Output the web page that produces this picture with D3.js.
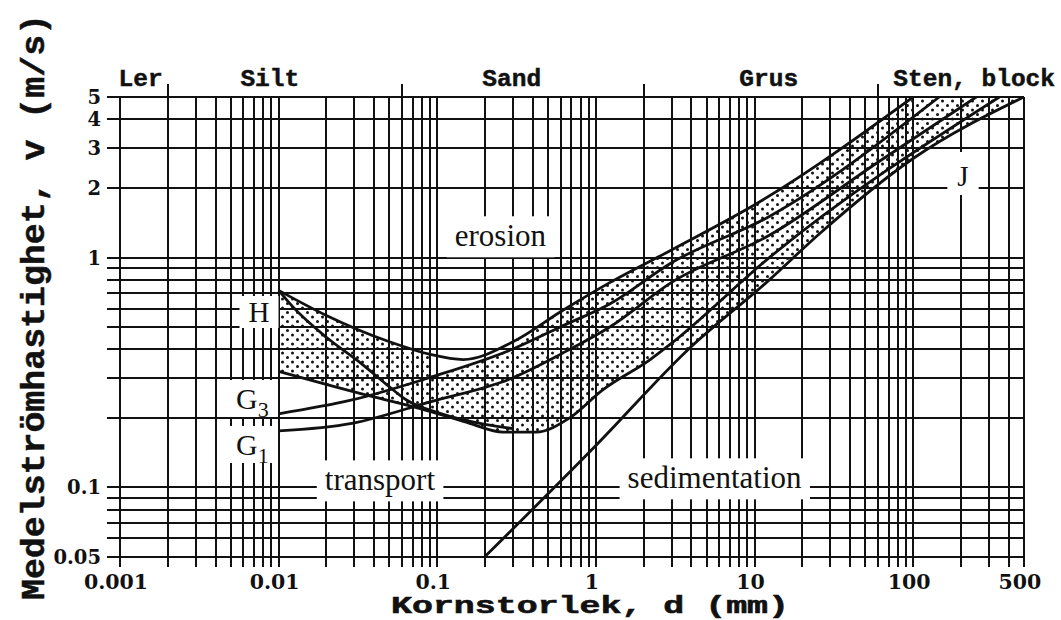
<!DOCTYPE html>
<html>
<head>
<meta charset="utf-8">
<script src="https://cdn.jsdelivr.net/npm/d3@7"></script>
<style>
  html, body { margin: 0; padding: 0; background: #fff; }
  svg { display: block; }
</style>
</head>
<body>
<svg id="chart" width="1061" height="620"></svg>
<script>
// ---- data -------------------------------------------------------------
// grain size classes written above the frame (label, anchor size in mm, text anchor)
const classLabels = ["Ler", "Silt", "Sand", "Grus", "Sten, block"];
const classLabelAt = [0.00098, 0.0088, 0.295, 12.3, 75];
const classLabelAnchor = ["start", "middle", "middle", "middle", "start"];
// class boundaries, marked by short ticks above the frame (mm)
const classBounds = [0.002, 0.06, 2, 60];

// axis tick labels
const xTickValues = [0.001, 0.01, 0.1, 1, 10, 100, 500];
const xTickLabels = ["0.001", "0.01", "0.1", "1", "10", "100", "500"];
const yTickValues = [5, 4, 3, 2, 1, 0.1, 0.05];
const yTickLabels = ["5", "4", "3", "2", "1", "0.1", "0.05"];

// limit curves: [grain size d (mm), mean velocity v (m/s)]
const curveHUpper = [[0.01,0.72],[0.02,0.56],[0.05,0.43],[0.089,0.38],[0.146,0.36],[0.3,0.43],[0.62,0.59],[1.23,0.78],[3,1.08],[10.8,1.75],[100,5]];
const curveHLower = [[0.01,0.32],[0.0376,0.25],[0.078,0.22],[0.125,0.2],[0.16,0.19],[0.26,0.174],[0.42,0.174],[0.68,0.2],[1.1,0.265],[2.2,0.36],[2.95,0.42],[12.4,1.0],[350,5]];
const curveHMid   = [[0.01,0.72],[0.0123,0.61],[0.02,0.45],[0.0325,0.35],[0.048,0.28],[0.064,0.24],[0.104,0.21],[0.2,0.188],[0.3,0.18]];
const curveG3     = [[0.01,0.209],[0.029,0.24],[0.089,0.3],[0.3,0.4],[0.6,0.5],[1.23,0.63],[3,0.95],[12.4,1.51],[146,5]];
const curveG1     = [[0.01,0.176],[0.029,0.19],[0.089,0.235],[0.3,0.3],[0.6,0.38],[1.23,0.5],[3,0.78],[12.4,1.25],[60,2.6],[250,5]];
const curveJ      = [[0.2,0.05],[1,0.152],[3.85,0.4],[12.4,0.8],[26,1.28],[100,2.7],[500,5]];

// region labels: [text, d, v]
const regionLabels = [["erosion", 0.25, 1.12], ["transport", 0.0435, 0.097], ["sedimentation", 5.6, 0.099]];

// ---- layout -----------------------------------------------------------
const svg = d3.select("#chart");
const x = d3.scaleLog().domain([0.001, 500]).range([120, 1024]);
const y = d3.scaleLog().domain([0.05, 5]).range([556.5, 97]);

const serif = "'Liberation Serif', 'Times New Roman', serif";
const mono = "'Liberation Mono', 'Courier New', monospace";
const numFont = "'DejaVu Serif', 'Liberation Serif', serif";
const ink = "#111";

const defs = svg.append("defs");
// stipple pattern used for the limit bands
const pat = defs.append("pattern")
  .attr("id", "stipple").attr("patternUnits", "userSpaceOnUse")
  .attr("width", 10).attr("height", 9);
pat.append("rect").attr("width", 10).attr("height", 9).attr("fill", "#fff");
pat.append("circle").attr("cx", 2.5).attr("cy", 2).attr("r", 1.5).attr("fill", ink);
pat.append("circle").attr("cx", 7.5).attr("cy", 6.5).attr("r", 1.5).attr("fill", ink);

// grid values 1..9 x 10^n
function logGrid(lo, hi) {
  const out = [];
  for (let e = -4; e <= 3; e++) for (let k = 1; k <= 9; k++) {
    const v = +(k * Math.pow(10, e)).toPrecision(6);
    if (v >= lo * 0.9999 && v <= hi * 1.0001) out.push(v);
  }
  return out;
}
const xGrid = logGrid(0.001, 500);
const yGrid = logGrid(0.05, 5);

const [x0, x1] = x.range();
const [yb, yt] = y.range();

defs.append("clipPath").attr("id", "plotclip")
  .append("rect").attr("x", x0).attr("y", yt).attr("width", x1 - x0).attr("height", yb - yt);

// ---- stippled bands ---------------------------------------------------
const lineGen = d3.line().x(d => x(d[0])).y(d => y(d[1])).curve(d3.curveMonotoneX);
function bandPath(upper, lower) {
  const a = lineGen(upper);
  const b = lineGen(lower.slice().reverse()).replace(/^M/, "L");
  return a + b + "Z";
}
const inRange = (c, lo, hi) => c.filter(p => p[0] >= lo && p[0] <= hi);
const bands = svg.append("g").attr("clip-path", "url(#plotclip)");
// band between the upper and lower H curves
bands.append("path").attr("d", bandPath(curveHUpper, curveHLower)).attr("fill", "url(#stipple)");
// coarse-grain part of the band, down to the J curve
bands.append("path")
  .attr("d", bandPath(inRange(curveHLower, 2.95, 1e3), inRange(curveJ, 3.85, 1e3)))
  .attr("fill", "url(#stipple)");
// clear gap between the upper H curve and G3 in the fine sand range
bands.append("path")
  .attr("d", bandPath(inRange(curveHUpper, 0.089, 0.3), inRange(curveG3, 0.089, 0.3)))
  .attr("fill", "#fff");

// ---- grid -------------------------------------------------------------
const grid = svg.append("g").attr("stroke", ink).attr("stroke-width", 2).attr("shape-rendering", "crispEdges");
grid.selectAll("line.v").data(xGrid).join("line")
  .attr("x1", d => Math.round(x(d))).attr("x2", d => Math.round(x(d)))
  .attr("y1", yt).attr("y2", yb + 10);
grid.selectAll("line.h").data(yGrid).join("line")
  .attr("y1", d => Math.round(y(d))).attr("y2", d => Math.round(y(d)))
  .attr("x1", x0 - 13).attr("x2", x1);
// class boundary ticks above the frame
grid.selectAll("line.c").data(classBounds).join("line")
  .attr("x1", d => Math.round(x(d))).attr("x2", d => Math.round(x(d)))
  .attr("y1", yt - 13).attr("y2", yt);

// ---- curves -----------------------------------------------------------
const curves = [curveHUpper, curveHLower, curveHMid, curveG3, curveG1, curveJ];
svg.append("g").attr("clip-path", "url(#plotclip)")
  .selectAll("path").data(curves).join("path")
  .attr("d", lineGen).attr("fill", "none").attr("stroke", ink)
  .attr("stroke-width", 2.8).attr("stroke-linejoin", "round");

// ---- white label boxes with text -------------------------------------
function boxLabel(cx, baseline, text, size, pad) {
  const g = svg.append("g");
  const t = g.append("text").attr("x", cx).attr("y", baseline)
    .attr("text-anchor", "middle").attr("font-family", serif)
    .attr("font-size", size).attr("fill", ink).text(text);
  const bb = t.node().getBBox();
  g.insert("rect", "text").attr("x", bb.x - pad[0]).attr("y", bb.y - pad[1])
    .attr("width", bb.width + 2 * pad[0]).attr("height", bb.height + pad[1] + pad[2])
    .attr("fill", "#fff");
  return g;
}
regionLabels.forEach(([t, d, v]) => boxLabel(x(d), y(v), t, 31, [8, 2, 4]));

// curve names
boxLabel(259, 322, "H", 29, [9, 0, 0]);
boxLabel(963, 186, "J", 29, [10, 8, 3]);
// G3 / G1 with subscripts
function gLabel(baseline, sub) {
  const g = svg.append("g");
  g.append("rect").attr("x", 229).attr("y", baseline - 29).attr("width", 48).attr("height", 37).attr("fill", "#fff");
  const t = g.append("text").attr("x", 236).attr("y", baseline)
    .attr("font-family", serif).attr("font-size", 30).attr("fill", ink);
  t.append("tspan").text("G");
  t.append("tspan").attr("dy", 8).attr("font-size", 22).text(sub);
}
gLabel(409, "3");
gLabel(455, "1");

// ---- frame labels -----------------------------------------------------
svg.append("g").selectAll("text").data(classLabels).join("text")
  .attr("x", (d, i) => x(classLabelAt[i])).attr("y", 86)
  .attr("text-anchor", (d, i) => classLabelAnchor[i])
  .attr("font-family", mono).attr("font-weight", "bold").attr("font-size", 24.5)
  .attr("fill", ink).attr("stroke", ink).attr("stroke-width", 0.5).text(d => d);

svg.append("g").selectAll("text").data(xTickValues).join("text")
  .attr("x", d => x(d) - 4).attr("y", 589)
  .attr("text-anchor", "middle").attr("font-family", numFont).attr("font-weight", "bold")
  .attr("font-size", 20.5).attr("fill", ink).text((d, i) => xTickLabels[i]);

svg.append("g").selectAll("text").data(yTickValues).join("text")
  .attr("x", 101).attr("y", d => y(d) + 7)
  .attr("text-anchor", "end").attr("font-family", numFont).attr("font-weight", "bold")
  .attr("font-size", 19.5).attr("fill", ink).text((d, i) => yTickLabels[i]);

svg.append("text").attr("x", 391).attr("y", 613)
  .attr("textLength", 398).attr("lengthAdjust", "spacingAndGlyphs")
  .attr("font-family", mono).attr("font-weight", "bold")
  .attr("font-size", 24).attr("fill", ink).attr("stroke", ink).attr("stroke-width", 0.6)
  .text("Kornstorlek, d (mm)");

svg.append("text").attr("transform", "translate(44,600) rotate(-90)")
  .attr("textLength", 586).attr("lengthAdjust", "spacingAndGlyphs")
  .attr("font-family", mono).attr("font-weight", "bold")
  .attr("font-size", 33).attr("fill", ink).attr("stroke", ink).attr("stroke-width", 0.5)
  .text("Medelströmhastighet, v (m/s)");
</script>
</body>
</html>
